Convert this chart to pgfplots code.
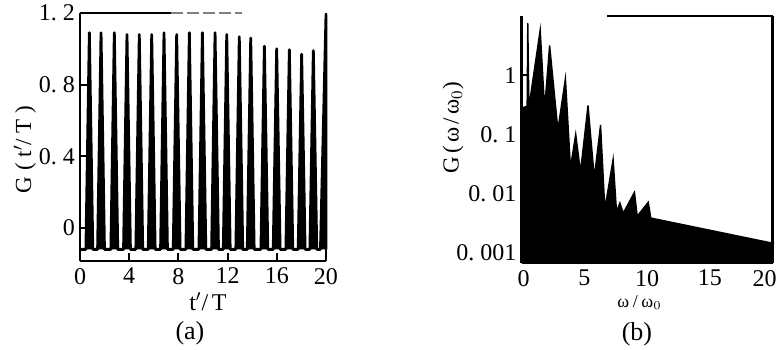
\documentclass[border=0pt]{standalone}
\usepackage{fontspec}
\setmainfont{Liberation Serif}
\usepackage{pgfplots}
\pgfplotsset{compat=1.18}

\pgfplotstableread{
t h
0 -0.12
0.48 -0.12
0.76 1.09
1.04 -0.12
1.43 -0.12
1.71 1.09
1.99 -0.12
2.51 -0.12
2.79 1.09
3.07 -0.12
3.54 -0.12
3.82 1.08
4.10 -0.12
4.54 -0.12
4.82 1.08
5.10 -0.12
5.55 -0.12
5.83 1.08
6.11 -0.12
6.55 -0.12
6.83 1.09
7.11 -0.12
7.58 -0.12
7.86 1.08
8.14 -0.12
8.61 -0.12
8.89 1.09
9.17 -0.12
9.67 -0.12
9.95 1.09
10.23 -0.12
10.70 -0.12
10.98 1.09
11.26 -0.12
11.65 -0.12
11.93 1.08
12.21 -0.12
12.67 -0.12
12.95 1.067
13.23 -0.12
13.60 -0.12
13.88 1.06
14.16 -0.12
14.71 -0.12
14.99 1.015
15.27 -0.12
15.71 -0.12
15.99 1.0
16.27 -0.12
16.74 -0.12
17.02 0.995
17.30 -0.12
17.74 -0.12
18.02 0.97
18.30 -0.12
18.69 -0.12
18.97 0.99
19.25 -0.12
19.55 -0.12
20.0 1.19
20.0 -0.12
}\pulses

\pgfplotstableread{
w g
0 0.00068
0 0.28
0.45 0.30
0.50 7.6
0.59 0.29
1.49 5.8
1.84 0.27
2.24 3.2
2.90 0.12
3.50 0.88
3.90 0.0275
4.32 0.101
4.70 0.0232
5.30 0.31
5.80 0.0186
6.30 0.145
6.64 0.0055
7.30 0.038
7.57 0.0050
7.84 0.0070
8.10 0.0047
9.00 0.0106
9.22 0.0042
10.10 0.0072
10.30 0.0039
19.80 0.0015
20.0 0.0015
20.0 0.00068
}\spectrum

\begin{document}
\begin{tikzpicture}
\useasboundingbox (0,0) rectangle (388pt,174.5pt);
\pgfplotsset{
  every non boxed x axis/.append style={x axis line style={-}},
  every non boxed y axis/.append style={y axis line style={-}},
}
% ---------------- (a)
\begin{axis}[
  at={(40pt,44pt)}, anchor=south west,
  width=123pt, height=124pt, scale only axis,
  xmin=0, xmax=20, ymin=-0.185, ymax=1.2,
  axis x line*=bottom, axis y line*=box,
  xtick={0,4,8,12,16,20}, xticklabels={0,4,8,12,16,20},
  ytick={0,0.4,0.8,1.2}, yticklabels={0,0.\ 4,0.\ 8,1.\ 2},
  tick pos=left, tick align=inside, major tick length=4pt,
  axis line style={line width=1.2pt, -},
  tick style={line width=1pt, black},
  ticklabel style={font=\fontsize{12}{14}\selectfont},
  yticklabel style={xshift=1pt},
  xlabel={t$'$/T},
  xlabel style={at={(axis description cs:0.52,-0.165)}, anchor=center, font=\fontsize{12}{14}\selectfont\addfontfeatures{LetterSpace=15}},
  ylabel={G(t$'$/T)},
  ylabel style={at={(axis description cs:-0.224,0.45)}, anchor=center, font=\fontsize{11.5}{13}\selectfont\addfontfeatures{LetterSpace=25}},
  clip=false,
]
\addplot[black, line width=1.4pt, fill=black, line join=round] table[x=t, y=h] {\pulses};
\draw[line width=1.2pt] (rel axis cs:0,1) -- (rel axis cs:0.37,1);
\draw[line width=0.8pt, gray, dash pattern=on 6pt off 2pt] (rel axis cs:0.37,1) -- (rel axis cs:0.66,1);
\node[font=\fontsize{13}{15}\selectfont] at (rel axis cs:0.447,-0.29) {(a)};
\end{axis}
% ---------------- (b)
\begin{axis}[
  at={(260.75pt,43pt)}, anchor=south west,
  width=125.5pt, height=123.5pt, scale only axis,
  ymode=log,
  xmin=0, xmax=20, ymin=0.00068, ymax=10,
  axis x line*=bottom, axis y line*=box,
  xtick={0,5,10,15,20}, xticklabels={\kern2pt 0,5,10,15,\kern-8pt 20},
  ytick={0.001,0.01,0.1,1}, yticklabels={0.\ 001,0.\ 01,0.\ 1,1},
  yminorticks=false,
  tick pos=left, tick align=inside, major tick length=3.5pt,
  axis line style={line width=1.2pt, -},
  tick style={line width=1pt, black},
  ticklabel style={font=\fontsize{12}{14}\selectfont},
  yticklabel style={xshift=1pt},
  xlabel={ω/ω$_0$},
  xlabel style={at={(axis description cs:0.47,-0.162)}, anchor=center, font=\fontsize{9}{11}\selectfont\addfontfeatures{LetterSpace=20}},
  ylabel={G(ω/ω$_0$)},
  ylabel style={at={(axis description cs:-0.273,0.547)}, anchor=center, font=\fontsize{11.5}{13}\selectfont\addfontfeatures{LetterSpace=15}},
  clip=false,
]
\addplot[black, line width=0.7pt, fill=black, line join=miter] table[x=w, y=g] {\spectrum};
\draw[line width=1.2pt] (rel axis cs:0.34,1) -- (rel axis cs:1,1);
\node[font=\fontsize{13}{15}\selectfont] at (rel axis cs:0.46,-0.29) {(b)};
\end{axis}
\end{tikzpicture}
\end{document}
